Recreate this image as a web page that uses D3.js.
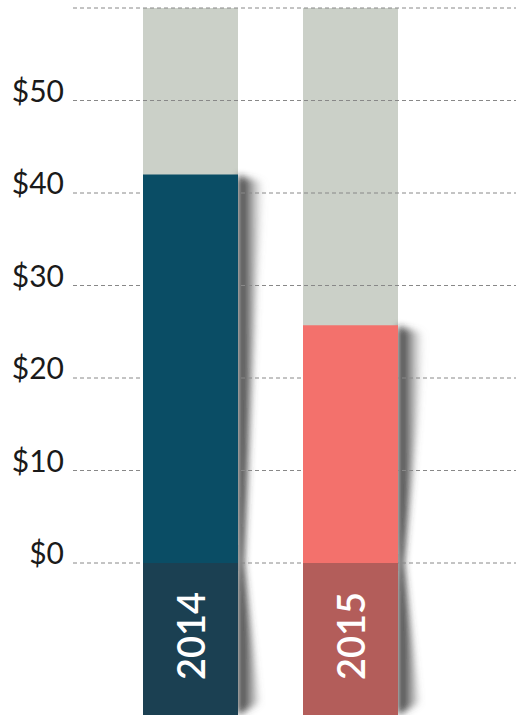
<!DOCTYPE html>
<html>
<head>
<meta charset="utf-8">
<script src="https://cdn.jsdelivr.net/npm/d3@7"></script>
<style>
  body { margin: 0; background: #fff; }
  svg { display: block; }
</style>
</head>
<body>
<div id="chart"></div>
<script>
const years = ["2014", "2015"];
const values = [42, 25.7];
const barColors = ["#0a4d65", "#f3716c"];
const labelColors = ["#1b4052", "#b35d5a"];
const tickValues = [0, 10, 20, 30, 40, 50, 60];
const maxValue = 60;

const width = 516, height = 715;

const svg = d3.select("#chart").append("svg")
    .attr("width", width)
    .attr("height", height);

const y = d3.scaleLinear()
    .domain([0, maxValue])
    .range([563, 8]);

const x = d3.scaleBand()
    .domain(years)
    .range([143, 398])
    .paddingInner(65 / 160)
    .paddingOuter(0);

// shadow gradient + blur
const defs = svg.append("defs");
const grad = defs.append("linearGradient")
    .attr("id", "shadeGrad")
    .attr("x1", 0).attr("x2", 1).attr("y1", 0).attr("y2", 0);
grad.append("stop").attr("offset", 0).attr("stop-color", "#111").attr("stop-opacity", 0.95);
grad.append("stop").attr("offset", 0.45).attr("stop-color", "#444").attr("stop-opacity", 0.6);
grad.append("stop").attr("offset", 1).attr("stop-color", "#999").attr("stop-opacity", 0);
defs.append("filter")
    .attr("id", "blur")
    .attr("x", "-50%").attr("y", "-10%").attr("width", "200%").attr("height", "120%")
    .append("feGaussianBlur").attr("stdDeviation", 3.5);

const data = years.map((yr, i) => ({ year: yr, value: values[i], color: barColors[i], label: labelColors[i] }));

// gray full-height background bars
svg.append("g").selectAll("rect")
    .data(data)
    .enter().append("rect")
    .attr("x", d => x(d.year))
    .attr("width", x.bandwidth())
    .attr("y", y(maxValue))
    .attr("height", y(0) - y(maxValue))
    .attr("fill", "#cbd0c8");

// curled shadows
svg.append("g").selectAll("path")
    .data(data)
    .enter().append("path")
    .attr("d", d => {
        const x1 = x(d.year) + x.bandwidth();
        const top = y(d.value);
        return "M" + x1 + "," + (top + 1) +
            " L" + (x1 + 26) + "," + (top + 8) +
            " L" + (x1 + 19) + "," + (top + 100) +
            " L" + (x1 + 6) + "," + y(0) +
            " L" + (x1 + 21) + "," + (height - 12) +
            " L" + x1 + "," + height + " Z";
    })
    .attr("fill", "url(#shadeGrad)")
    .attr("filter", "url(#blur)");

// gridlines
svg.append("g").selectAll("line")
    .data(tickValues)
    .enter().append("line")
    .attr("x1", 73)
    .attr("x2", width)
    .attr("y1", d => y(d))
    .attr("y2", d => y(d))
    .attr("stroke", "#888")
    .attr("stroke-width", 1)
    .attr("stroke-dasharray", "4,3");

// tick labels
svg.append("g").selectAll("text")
    .data(tickValues.filter(d => d < maxValue))
    .enter().append("text")
    .attr("x", 64)
    .attr("y", d => y(d) + 1)
    .attr("text-anchor", "end")
    .attr("font-family", "Lato, 'Open Sans', sans-serif")
    .attr("font-weight", 400)
    .attr("font-size", 30)
    .attr("fill", "#1a1a1a")
    .text(d => "$" + d);

// value bars
svg.append("g").selectAll("rect")
    .data(data)
    .enter().append("rect")
    .attr("x", d => x(d.year))
    .attr("width", x.bandwidth())
    .attr("y", d => y(d.value))
    .attr("height", d => y(0) - y(d.value))
    .attr("fill", d => d.color);

// label boxes below zero
const labels = svg.append("g").selectAll("g")
    .data(data)
    .enter().append("g");

labels.append("rect")
    .attr("x", d => x(d.year))
    .attr("width", x.bandwidth())
    .attr("y", y(0))
    .attr("height", height - y(0))
    .attr("fill", d => d.label);

labels.append("text")
    .attr("transform", d => "translate(" + (x(d.year) + x.bandwidth() / 2 + 14.5) + "," + 636 + ") rotate(-90)")
    .attr("text-anchor", "middle")
    .attr("font-family", "Lato, 'Open Sans', sans-serif")
    .attr("font-weight", 600)
    .attr("font-size", 38)
    .attr("fill", "#fff")
    .text(d => d.year);
</script>
</body>
</html>
